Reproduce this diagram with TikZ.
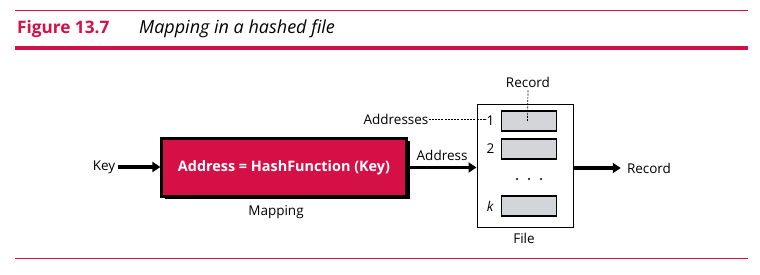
\documentclass[tikz,border=0pt]{standalone}
\usepackage{fontspec}
\setmainfont{Open Sans}
\usepackage{tikz}
\usetikzlibrary{calc}
\usetikzlibrary{arrows.meta}
\usetikzlibrary{shadows}
\definecolor{figred}{RGB}{212,16,70}
\definecolor{recgray}{RGB}{212,213,216}
\tikzset{%
  flowedge/.style={-{Triangle[length=8pt,width=10pt]}, line width=3.8pt},
  dashedge/.style={dashed, dash pattern=on 2pt off 1.2pt, line width=0.7pt},
  lbl/.style={font=\fontsize{13.5}{16}\selectfont, inner sep=0pt},
  mapbox/.style={rectangle, draw=black, line width=2.2pt, fill=figred, text=white,
    font=\fontsize{14.4}{17}\selectfont\bfseries, minimum width=245pt, minimum height=58pt,
    drop shadow={shadow xshift=3pt, shadow yshift=-3pt, fill=black, opacity=1}},
  filebox/.style={rectangle, draw=black, line width=0.9pt, minimum width=96pt, minimum height=123pt},
  recbox/.style={rectangle, draw=black, line width=1.8pt, fill=recgray, minimum width=55pt,
    minimum height=20pt, inner sep=0pt}
}

\begin{document}
\begin{tikzpicture}[x=1pt, y=-1pt]
\useasboundingbox (0,0) rectangle (760,275);

% caption bar
\draw [figred, line width=1pt] (15,11) -- (748,11);
\draw [figred, line width=4.5pt] (15,48) -- (748,48);
\draw [figred, line width=1pt] (15,258) -- (748,258);
\node [anchor=base west, inner sep=0pt, text=figred, font=\fontsize{17.2}{20}\selectfont\bfseries] (fignum) at (17,34) {Figure 13.7};
\node [anchor=base west, inner sep=0pt, font=\fontsize{18}{21}\selectfont\itshape] (figtitle) at (139,34) {Mapping in a hashed file};

% hash mapping
\node [mapbox] (map) at (284,167.5) {Address = HashFunction (Key)};
\node [lbl] (key) at (104,167) {Key};
\node [lbl] (maplbl) at (276,212) {Mapping};
\draw [flowedge] (key.east) ++(3,0) coordinate (keyout) -- (map.west |- keyout);

% the file and its records
\node [filebox] (file) at (525,166) {};
\node [lbl] (filelbl) at (524,238) {File};

\foreach \n / \y / \lab in {1/121/1, 2/149/2, k/206/\textit{k}} {
  \node [recbox] (R\n) at (529,\y) {};
  \node [lbl, anchor=center] (N\n) at (490.5,\y) {\lab};
}
\foreach \x in {517,529,541} {
  \fill (\x,179) circle (1.2);
}

\draw [flowedge] (map.east |- 0,167.5) -- (file.west |- 0,167.5)
  node [lbl, midway, above=5pt] (addrlbl) {Address};

% pointers into the file
\node [lbl] (reclbl) at (528,82) {Record};
\coordinate (recdot) at (527.5,121);
\draw [dashedge] (reclbl.south) ++(0,3) -- (recdot);

\node [lbl] (addrs) at (396,119) {Addresses};
\draw [dashedge] (addrs.east) -- (N1.west |- addrs.east) -- ++(-1.5,0);

\node [lbl] (outrec) at (649,168) {Record};
\draw [flowedge] (file.east |- outrec) -- ($(outrec.west)+(-6,0)$);

\end{tikzpicture}
\end{document}
